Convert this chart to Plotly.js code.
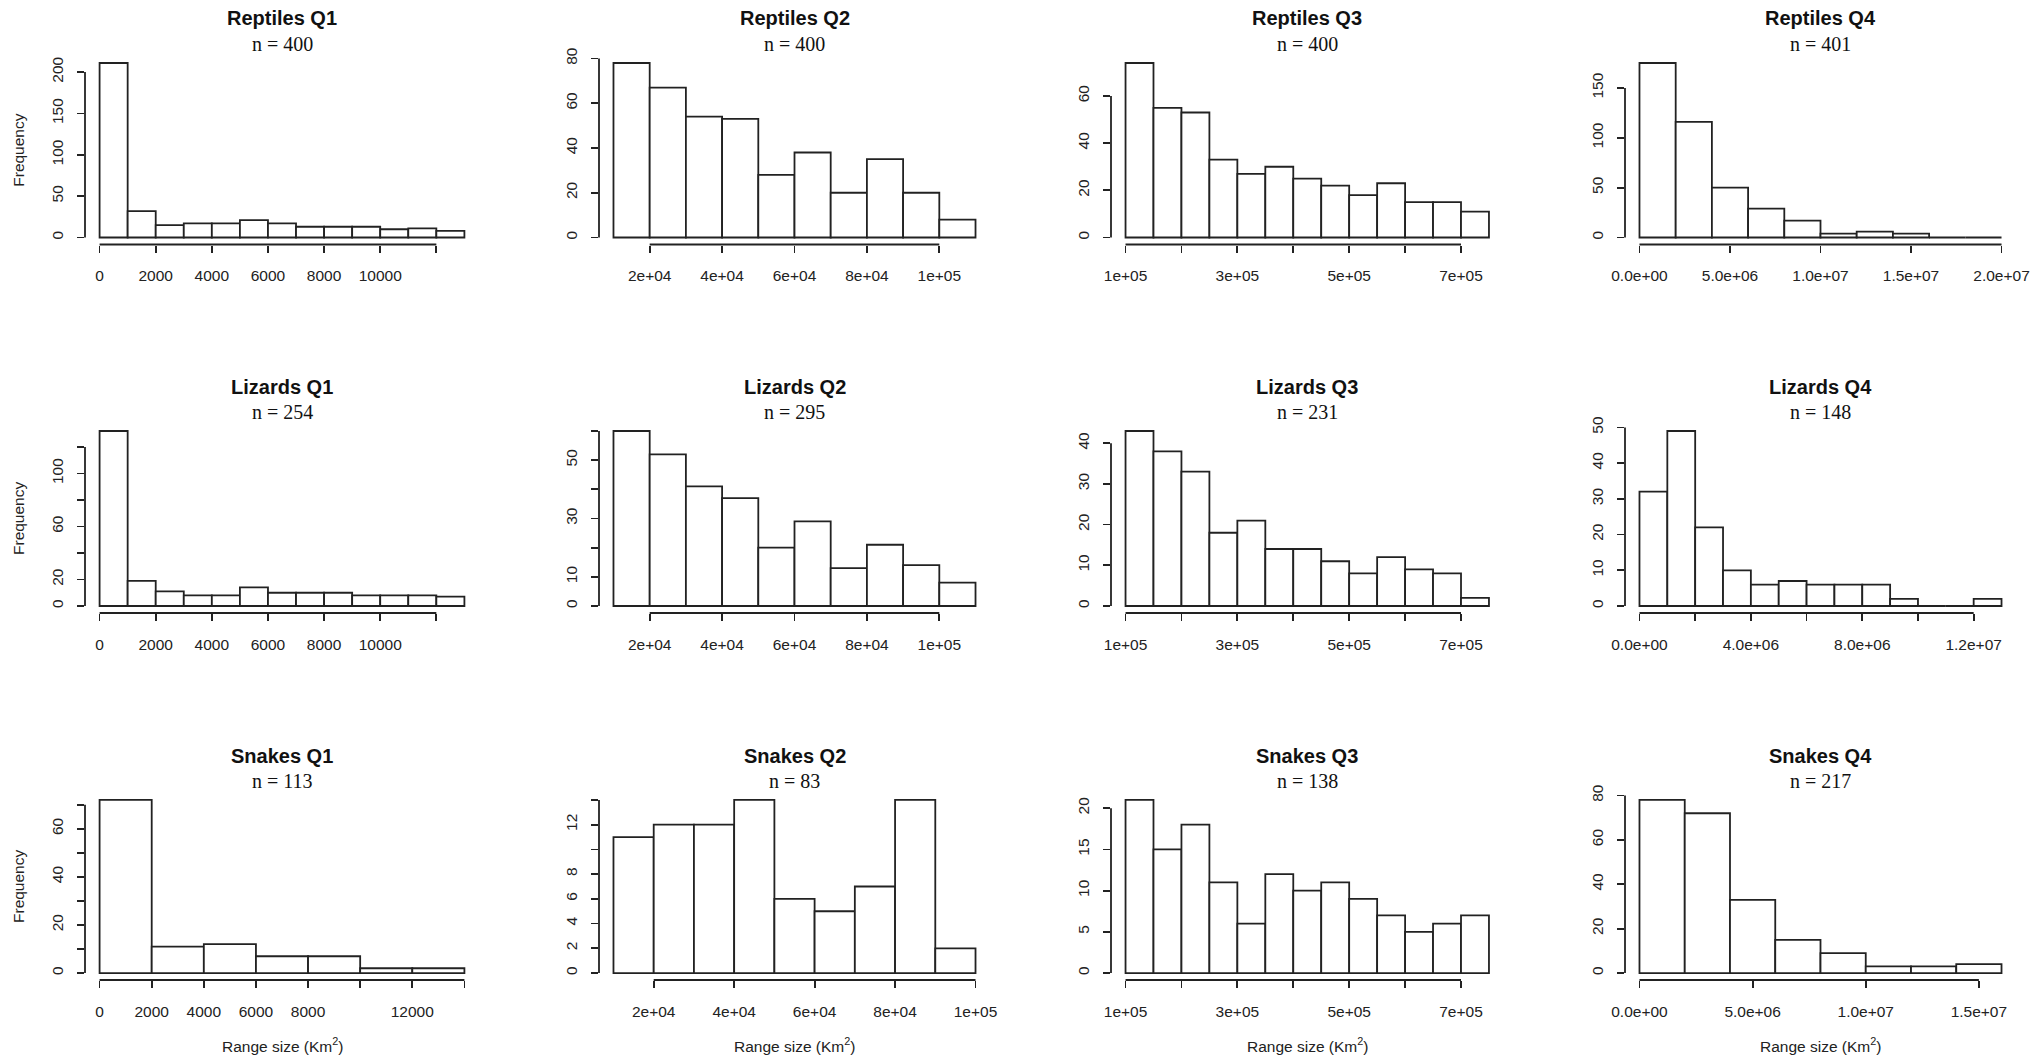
<!DOCTYPE html>
<html><head><meta charset="utf-8">
<script src="https://cdn.plot.ly/plotly-3.0.1.min.js"></script>
<style>html,body{margin:0;padding:0;background:#fff;}#chart{width:2040px;height:1059px;}</style>
</head><body><div id="chart"></div>
<script>
// ---------- data ----------
const groups = ["Reptiles", "Lizards", "Snakes"];
const quartiles = ["Q1", "Q2", "Q3", "Q4"];
const sampleSizes = [400, 400, 400, 401, 254, 295, 231, 148, 113, 83, 138, 217];

const breaksQ1 = [0,1000,2000,3000,4000,5000,6000,7000,8000,9000,10000,11000,12000,13000];
const breaksQ2 = [10000,20000,30000,40000,50000,60000,70000,80000,90000,100000,110000];
const breaksQ3 = [100000,150000,200000,250000,300000,350000,400000,450000,500000,550000,600000,650000,700000,750000];
const breaksReptilesQ4 = [0,2e6,4e6,6e6,8e6,1e7,1.2e7,1.4e7,1.6e7,1.8e7,2e7];
const breaksLizardsQ4 = [0,1e6,2e6,3e6,4e6,5e6,6e6,7e6,8e6,9e6,1e7,1.1e7,1.2e7,1.3e7];
const breaksSnakesQ1 = [0,2000,4000,6000,8000,10000,12000,14000];
const breaksSnakesQ2 = [10000,20000,30000,40000,50000,60000,70000,80000,90000,100000];
const breaksSnakesQ4 = [0,2e6,4e6,6e6,8e6,1e7,1.2e7,1.4e7,1.6e7];

const reptilesQ1 = [211,32,15,17,17,21,17,13,13,13,10,11,8];
const reptilesQ2 = [78,67,54,53,28,38,20,35,20,8];
const reptilesQ3 = [74,55,53,33,27,30,25,22,18,23,15,15,11];
const reptilesQ4 = [175,116,50,29,17,4,6,4,0,0];
const lizardsQ1 = [132,19,11,8,8,14,10,10,10,8,8,8,7];
const lizardsQ2 = [60,52,41,37,20,29,13,21,14,8];
const lizardsQ3 = [43,38,33,18,21,14,14,11,8,12,9,8,2];
const lizardsQ4 = [32,49,22,10,6,7,6,6,6,2,0,0,2];
const snakesQ1 = [72,11,12,7,7,2,2];
const snakesQ2 = [11,12,12,14,6,5,7,14,2];
const snakesQ3 = [21,15,18,11,6,12,10,11,9,7,5,6,7];
const snakesQ4 = [78,72,33,15,9,3,3,4];

// x tick values / labels ("" = tick mark without a label)
const xTicksQ1 = [0,2000,4000,6000,8000,10000,12000];
const xLabelsQ1 = ["0","2000","4000","6000","8000","10000",""];
const xTicksQ2 = [20000,40000,60000,80000,100000];
const xLabelsQ2 = ["2e+04","4e+04","6e+04","8e+04","1e+05"];
const xTicksQ3 = [100000,200000,300000,400000,500000,600000,700000];
const xLabelsQ3 = ["1e+05","","3e+05","","5e+05","","7e+05"];
const xTicksReptilesQ4 = [0,5e6,1e7,1.5e7,2e7];
const xLabelsReptilesQ4 = ["0.0e+00","5.0e+06","1.0e+07","1.5e+07","2.0e+07"];
const xTicksLizardsQ4 = [0,2e6,4e6,6e6,8e6,1e7,1.2e7];
const xLabelsLizardsQ4 = ["0.0e+00","","4.0e+06","","8.0e+06","","1.2e+07"];
const xTicksSnakesQ1 = [0,2000,4000,6000,8000,10000,12000,14000];
const xLabelsSnakesQ1 = ["0","2000","4000","6000","8000","","12000",""];
const xTicksSnakesQ4 = [0,5e6,1e7,1.5e7];
const xLabelsSnakesQ4 = ["0.0e+00","5.0e+06","1.0e+07","1.5e+07"];

// y tick values / labels
const yTicksR1 = [0,50,100,150,200], yLabelsR1 = ["0","50","100","150","200"];
const yTicksR2 = [0,20,40,60,80], yLabelsR2 = ["0","20","40","60","80"];
const yTicksR3 = [0,20,40,60], yLabelsR3 = ["0","20","40","60"];
const yTicksR4 = [0,50,100,150], yLabelsR4 = ["0","50","100","150"];
const yTicksL1 = [0,20,40,60,80,100,120], yLabelsL1 = ["0","20","","60","","100",""];
const yTicksL2 = [0,10,20,30,40,50,60], yLabelsL2 = ["0","10","","30","","50",""];
const yTicksL3 = [0,10,20,30,40], yLabelsL3 = ["0","10","20","30","40"];
const yTicksL4 = [0,10,20,30,40,50], yLabelsL4 = ["0","10","20","30","40","50"];
const yTicksS1 = [0,10,20,30,40,50,60,70], yLabelsS1 = ["0","","20","","40","","60",""];
const yTicksS2 = [0,2,4,6,8,10,12,14], yLabelsS2 = ["0","2","4","6","8","","12",""];
const yTicksS3 = [0,5,10,15,20], yLabelsS3 = ["0","5","10","15","20"];
const yTicksS4 = [0,20,40,60,80], yLabelsS4 = ["0","20","40","60","80"];

const yLabelText = "Frequency";
const xLabelText = "Range size (Km<sup>2</sup>)";

// ---------- panel table built from the arrays ----------
const panels = [
  {b: breaksQ1, c: reptilesQ1, xt: xTicksQ1, xl: xLabelsQ1, yt: yTicksR1, yl: yLabelsR1},
  {b: breaksQ2, c: reptilesQ2, xt: xTicksQ2, xl: xLabelsQ2, yt: yTicksR2, yl: yLabelsR2},
  {b: breaksQ3, c: reptilesQ3, xt: xTicksQ3, xl: xLabelsQ3, yt: yTicksR3, yl: yLabelsR3},
  {b: breaksReptilesQ4, c: reptilesQ4, xt: xTicksReptilesQ4, xl: xLabelsReptilesQ4, yt: yTicksR4, yl: yLabelsR4},
  {b: breaksQ1, c: lizardsQ1, xt: xTicksQ1, xl: xLabelsQ1, yt: yTicksL1, yl: yLabelsL1},
  {b: breaksQ2, c: lizardsQ2, xt: xTicksQ2, xl: xLabelsQ2, yt: yTicksL2, yl: yLabelsL2},
  {b: breaksQ3, c: lizardsQ3, xt: xTicksQ3, xl: xLabelsQ3, yt: yTicksL3, yl: yLabelsL3},
  {b: breaksLizardsQ4, c: lizardsQ4, xt: xTicksLizardsQ4, xl: xLabelsLizardsQ4, yt: yTicksL4, yl: yLabelsL4},
  {b: breaksSnakesQ1, c: snakesQ1, xt: xTicksSnakesQ1, xl: xLabelsSnakesQ1, yt: yTicksS1, yl: yLabelsS1},
  {b: breaksSnakesQ2, c: snakesQ2, xt: xTicksQ2, xl: xLabelsQ2, yt: yTicksS2, yl: yLabelsS2},
  {b: breaksQ3, c: snakesQ3, xt: xTicksQ3, xl: xLabelsQ3, yt: yTicksS3, yl: yLabelsS3},
  {b: breaksSnakesQ4, c: snakesQ4, xt: xTicksSnakesQ4, xl: xLabelsSnakesQ4, yt: yTicksS4, yl: yLabelsS4}
];

// ---------- layout geometry (pixels) ----------
const W = 2040, H = 1059;
const colLeft = [85, 599, 1111, 1625];
const colRight = [479, 990, 1503.5, 2016];
const rowTop = [56, 424, 793];
const rowBottom = [244.5, 613, 980];
const ink = '#222';
const sans = 'Liberation Sans, Arial, sans-serif';
const serif = 'Liberation Serif, Times New Roman, serif';

function splitTicks(vals, labels) {
  const major = [], majorText = [], minor = [];
  vals.forEach((v, k) => {
    if (labels[k] === '') minor.push(v);
    else { major.push(v); majorText.push(labels[k]); }
  });
  return {major, majorText, minor};
}

const traces = [];
const layout = {
  width: W, height: H,
  margin: {l: 0, r: 0, t: 0, b: 0},
  paper_bgcolor: '#fff', plot_bgcolor: 'rgba(0,0,0,0)',
  showlegend: false, bargap: 0,
  shapes: [], annotations: []
};

panels.forEach((p, i) => {
  const row = Math.floor(i / 4), col = i % 4;
  const n = i + 1;
  const xid = n === 1 ? 'x' : 'x' + n;
  const yid = n === 1 ? 'y' : 'y' + n;
  const xkey = n === 1 ? 'xaxis' : 'xaxis' + n;
  const ykey = n === 1 ? 'yaxis' : 'yaxis' + n;

  const mids = [], widths = [];
  for (let k = 0; k < p.c.length; k++) {
    mids.push((p.b[k] + p.b[k + 1]) / 2);
    widths.push(p.b[k + 1] - p.b[k]);
  }
  traces.push({
    type: 'bar', x: mids, y: p.c, width: widths,
    xaxis: xid, yaxis: yid,
    marker: {color: '#fff', line: {color: ink, width: 1.8}},
    hoverinfo: 'skip'
  });

  const b0 = p.b[0], bN = p.b[p.b.length - 1], span = bN - b0;
  const cmax = Math.max(...p.c);
  const dx = [colLeft[col] / W, colRight[col] / W];
  const dy = [1 - rowBottom[row] / H, 1 - rowTop[row] / H];
  const xs = splitTicks(p.xt, p.xl);
  const ys = splitTicks(p.yt, p.yl);

  const tickCommon = {
    showgrid: false, zeroline: false, showline: false,
    ticks: 'outside', ticklen: 7, tickwidth: 1.8, tickcolor: ink,
    tickmode: 'array', tickfont: {family: sans, size: 15.5, color: ink},
    fixedrange: true
  };
  layout[xkey] = Object.assign({}, tickCommon, {
    domain: dx, anchor: yid,
    range: [b0 - 0.04 * span, bN + 0.04 * span],
    tickvals: xs.major, ticktext: xs.majorText, tickangle: 0,
    ticklabelstandoff: 10,
    minor: {tickmode: 'array', tickvals: xs.minor, ticks: 'outside', ticklen: 7, tickwidth: 1.8, tickcolor: ink, showgrid: false}
  });
  layout[ykey] = Object.assign({}, tickCommon, {
    domain: dy, anchor: xid,
    range: [-0.04 * cmax, 1.04 * cmax],
    tickvals: ys.major, ticktext: ys.majorText, tickangle: -90,
    ticklabelstandoff: 8,
    minor: {tickmode: 'array', tickvals: ys.minor, ticks: 'outside', ticklen: 7, tickwidth: 1.8, tickcolor: ink, showgrid: false}
  });

  // R-style axis lines spanning first..last tick
  layout.shapes.push({
    type: 'line', xref: xid, yref: yid + ' domain',
    x0: p.xt[0], x1: p.xt[p.xt.length - 1], y0: 0, y1: 0,
    line: {color: ink, width: 1.8}
  });
  layout.shapes.push({
    type: 'line', xref: xid + ' domain', yref: yid,
    x0: 0, x1: 0, y0: p.yt[0], y1: p.yt[p.yt.length - 1],
    line: {color: ink, width: 1.8}
  });

  const cx = (dx[0] + dx[1]) / 2;
  layout.annotations.push({
    xref: 'paper', yref: 'paper', x: cx, y: 1 - (rowTop[row] - 37.5) / H,
    xanchor: 'center', yanchor: 'middle', showarrow: false,
    text: '<b>' + groups[row] + ' ' + quartiles[col] + '</b>',
    font: {family: sans, size: 20, color: '#111'}
  });
  layout.annotations.push({
    xref: 'paper', yref: 'paper', x: cx, y: 1 - (rowTop[row] - 12) / H,
    xanchor: 'center', yanchor: 'middle', showarrow: false,
    text: 'n = ' + sampleSizes[i],
    font: {family: serif, size: 20, color: '#111'}
  });
  if (col === 0) {
    layout.annotations.push({
      xref: 'paper', yref: 'paper', x: 18.5 / W,
      y: 1 - ((rowTop[row] + rowBottom[row]) / 2) / H,
      xanchor: 'center', yanchor: 'middle', showarrow: false, textangle: -90,
      text: yLabelText, font: {family: sans, size: 15.5, color: ink}
    });
  }
  if (row === 2) {
    layout.annotations.push({
      xref: 'paper', yref: 'paper', x: cx, y: 1 - 1045 / H,
      xanchor: 'center', yanchor: 'middle', showarrow: false,
      text: xLabelText, font: {family: sans, size: 15.5, color: ink}
    });
  }
});

Plotly.newPlot('chart', traces, layout, {displayModeBar: false, staticPlot: true});
</script>
</body></html>
